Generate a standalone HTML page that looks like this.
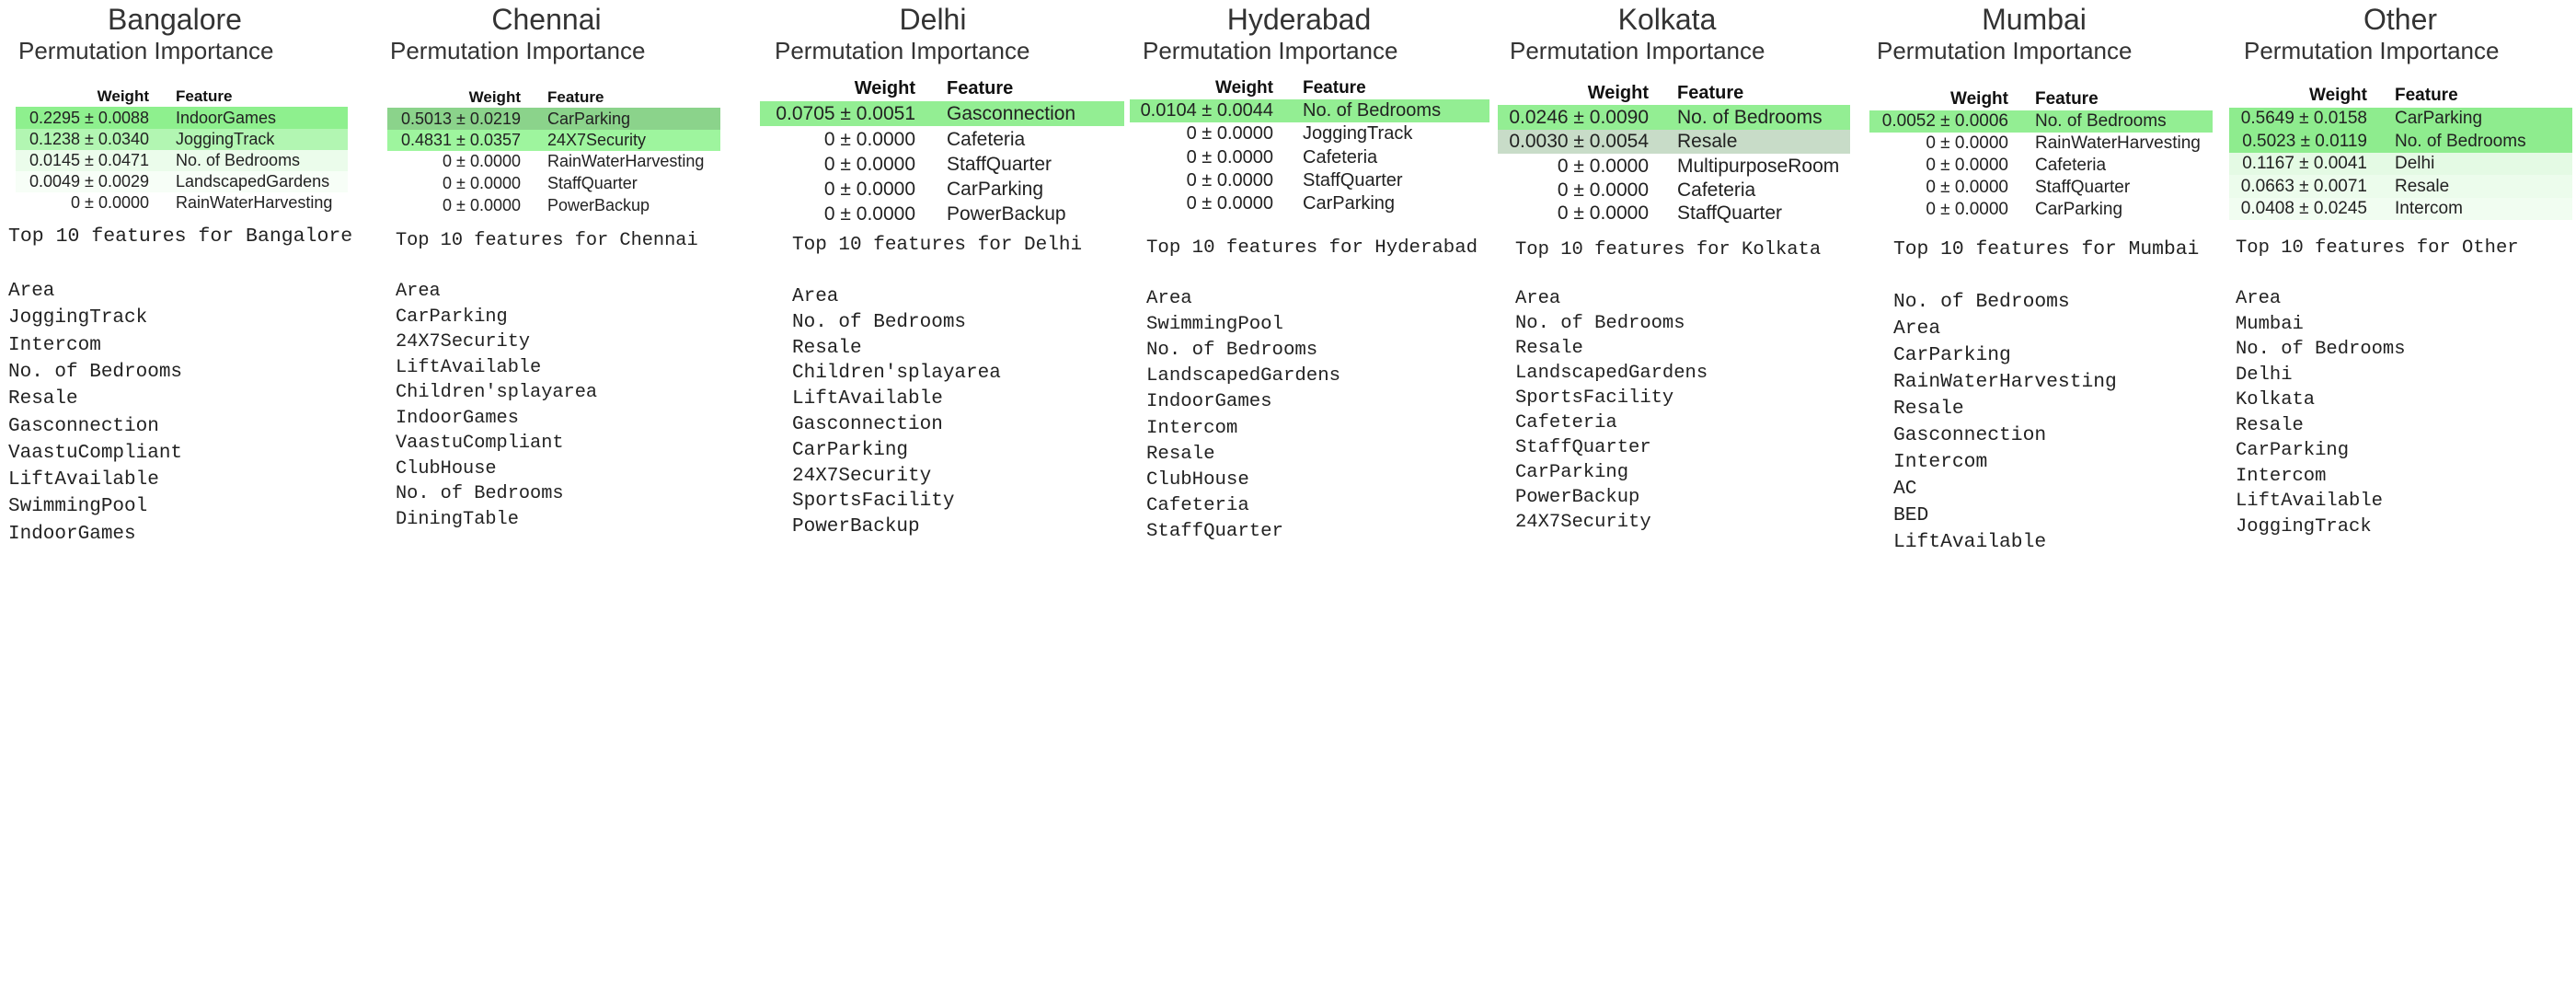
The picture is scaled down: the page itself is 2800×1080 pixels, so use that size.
<!DOCTYPE html>
<html><head><meta charset="utf-8">
<style>
body{margin:0;width:2800px;height:1080px;background:#fff;position:relative;overflow:hidden;font-family:"Liberation Sans",sans-serif;color:#222}
.t{position:absolute;width:400px;text-align:center;font-size:32px;line-height:40px;color:#333}
.s{position:absolute;font-size:26px;line-height:30px;white-space:nowrap;color:#333}
.h,.r{position:absolute;white-space:nowrap}
.h span,.r span{position:absolute;top:0}
.h{font-weight:bold;color:#111}
.w{left:0;text-align:right}
.m{position:absolute;font-family:"Liberation Mono",monospace;font-size:21px;white-space:nowrap;color:#222}
.l{position:absolute;font-family:"Liberation Mono",monospace;font-size:21px;white-space:nowrap;color:#222}
.l div{position:absolute;left:0}
</style></head><body>

<!-- Bangalore -->
<div class="t" style="left:-10px;top:1px">Bangalore</div>
<div class="s" style="left:20px;top:40px">Permutation Importance</div>
<div class="h" style="left:17px;top:94px;width:361px;height:22px;line-height:22px;font-size:17px"><span class="w" style="width:145px">Weight</span><span style="left:174px">Feature</span></div>
<div class="r" style="left:17px;top:116px;width:361px;height:24px;line-height:24px;font-size:18px;background:#8ef08e"><span class="w" style="width:145px">0.2295 ± 0.0088</span><span style="left:174px">IndoorGames</span></div>
<div class="r" style="left:17px;top:140px;width:361px;height:23px;line-height:23px;font-size:18px;background:#b2f6b2"><span class="w" style="width:145px">0.1238 ± 0.0340</span><span style="left:174px">JoggingTrack</span></div>
<div class="r" style="left:17px;top:163px;width:361px;height:23px;line-height:23px;font-size:18px;background:#ebfceb"><span class="w" style="width:145px">0.0145 ± 0.0471</span><span style="left:174px">No. of Bedrooms</span></div>
<div class="r" style="left:17px;top:186px;width:361px;height:23px;line-height:23px;font-size:18px;background:#f7fef7"><span class="w" style="width:145px">0.0049 ± 0.0029</span><span style="left:174px">LandscapedGardens</span></div>
<div class="r" style="left:17px;top:209px;width:361px;height:23px;line-height:23px;font-size:18px"><span class="w" style="width:145px">0 ± 0.0000</span><span style="left:174px">RainWaterHarvesting</span></div>
<div class="m" style="left:9px;top:245px;font-size:21.5px">Top 10 features for Bangalore</div>
<div class="l" style="left:9px;top:305px;font-size:21px">
<div style="top:0">Area</div><div style="top:29.3px">JoggingTrack</div><div style="top:58.6px">Intercom</div><div style="top:87.9px">No. of Bedrooms</div><div style="top:117.2px">Resale</div><div style="top:146.5px">Gasconnection</div><div style="top:175.8px">VaastuCompliant</div><div style="top:205.1px">LiftAvailable</div><div style="top:234.4px">SwimmingPool</div><div style="top:263.7px">IndoorGames</div></div>

<!-- Chennai -->
<div class="t" style="left:394px;top:1px">Chennai</div>
<div class="s" style="left:424px;top:40px">Permutation Importance</div>
<div class="h" style="left:421px;top:95px;width:362px;height:22px;line-height:22px;font-size:17px"><span class="w" style="width:145px">Weight</span><span style="left:174px">Feature</span></div>
<div class="r" style="left:421px;top:117px;width:362px;height:24px;line-height:24px;font-size:18px;background:#8bd38b"><span class="w" style="width:145px">0.5013 ± 0.0219</span><span style="left:174px">CarParking</span></div>
<div class="r" style="left:421px;top:141px;width:362px;height:23px;line-height:23px;font-size:18px;background:#9ef59e"><span class="w" style="width:145px">0.4831 ± 0.0357</span><span style="left:174px">24X7Security</span></div>
<div class="r" style="left:421px;top:164px;width:362px;height:23px;line-height:23px;font-size:18px"><span class="w" style="width:145px">0 ± 0.0000</span><span style="left:174px">RainWaterHarvesting</span></div>
<div class="r" style="left:421px;top:187px;width:362px;height:24px;line-height:24px;font-size:18px"><span class="w" style="width:145px">0 ± 0.0000</span><span style="left:174px">StaffQuarter</span></div>
<div class="r" style="left:421px;top:211px;width:362px;height:24px;line-height:24px;font-size:18px"><span class="w" style="width:145px">0 ± 0.0000</span><span style="left:174px">PowerBackup</span></div>
<div class="m" style="left:430px;top:250px;font-size:20.3px">Top 10 features for Chennai</div>
<div class="l" style="left:430px;top:305px;font-size:20.3px">
<div style="top:0">Area</div><div style="top:27.5px">CarParking</div><div style="top:55px">24X7Security</div><div style="top:82.5px">LiftAvailable</div><div style="top:110px">Children'splayarea</div><div style="top:137.5px">IndoorGames</div><div style="top:165px">VaastuCompliant</div><div style="top:192.5px">ClubHouse</div><div style="top:220px">No. of Bedrooms</div><div style="top:247.5px">DiningTable</div></div>

<!-- Delhi -->
<div class="t" style="left:814px;top:1px">Delhi</div>
<div class="s" style="left:842px;top:40px">Permutation Importance</div>
<div class="h" style="left:826px;top:84px;width:396px;height:24px;line-height:24px;font-size:20px"><span class="w" style="width:169px">Weight</span><span style="left:203px">Feature</span></div>
<div class="r" style="left:826px;top:110px;width:396px;height:27px;line-height:27px;font-size:21px;background:#93ee93"><span class="w" style="width:169px">0.0705 ± 0.0051</span><span style="left:203px">Gasconnection</span></div>
<div class="r" style="left:826px;top:138px;width:396px;height:27px;line-height:27px;font-size:21px"><span class="w" style="width:169px">0 ± 0.0000</span><span style="left:203px">Cafeteria</span></div>
<div class="r" style="left:826px;top:165px;width:396px;height:27px;line-height:27px;font-size:21px"><span class="w" style="width:169px">0 ± 0.0000</span><span style="left:203px">StaffQuarter</span></div>
<div class="r" style="left:826px;top:192px;width:396px;height:27px;line-height:27px;font-size:21px"><span class="w" style="width:169px">0 ± 0.0000</span><span style="left:203px">CarParking</span></div>
<div class="r" style="left:826px;top:219px;width:396px;height:27px;line-height:27px;font-size:21px"><span class="w" style="width:169px">0 ± 0.0000</span><span style="left:203px">PowerBackup</span></div>
<div class="m" style="left:861px;top:255px;font-size:21px">Top 10 features for Delhi</div>
<div class="l" style="left:861px;top:311px;font-size:21px">
<div style="top:0">Area</div><div style="top:27.8px">No. of Bedrooms</div><div style="top:55.6px">Resale</div><div style="top:83.4px">Children'splayarea</div><div style="top:111.2px">LiftAvailable</div><div style="top:139px">Gasconnection</div><div style="top:166.8px">CarParking</div><div style="top:194.6px">24X7Security</div><div style="top:222.4px">SportsFacility</div><div style="top:250.2px">PowerBackup</div></div>

<!-- Hyderabad -->
<div class="t" style="left:1212px;top:1px">Hyderabad</div>
<div class="s" style="left:1242px;top:40px">Permutation Importance</div>
<div class="h" style="left:1228px;top:84px;width:391px;height:23px;line-height:23px;font-size:19px"><span class="w" style="width:156px">Weight</span><span style="left:188px">Feature</span></div>
<div class="r" style="left:1228px;top:108px;width:391px;height:25px;line-height:25px;font-size:20px;background:#93ee93"><span class="w" style="width:156px">0.0104 ± 0.0044</span><span style="left:188px">No. of Bedrooms</span></div>
<div class="r" style="left:1228px;top:133px;width:391px;height:25px;line-height:25px;font-size:20px"><span class="w" style="width:156px">0 ± 0.0000</span><span style="left:188px">JoggingTrack</span></div>
<div class="r" style="left:1228px;top:159px;width:391px;height:25px;line-height:25px;font-size:20px"><span class="w" style="width:156px">0 ± 0.0000</span><span style="left:188px">Cafeteria</span></div>
<div class="r" style="left:1228px;top:184px;width:391px;height:25px;line-height:25px;font-size:20px"><span class="w" style="width:156px">0 ± 0.0000</span><span style="left:188px">StaffQuarter</span></div>
<div class="r" style="left:1228px;top:209px;width:391px;height:25px;line-height:25px;font-size:20px"><span class="w" style="width:156px">0 ± 0.0000</span><span style="left:188px">CarParking</span></div>
<div class="m" style="left:1246px;top:258px;font-size:20.7px">Top 10 features for Hyderabad</div>
<div class="l" style="left:1246px;top:313px;font-size:20.7px">
<div style="top:0">Area</div><div style="top:28.1px">SwimmingPool</div><div style="top:56.2px">No. of Bedrooms</div><div style="top:84.3px">LandscapedGardens</div><div style="top:112.4px">IndoorGames</div><div style="top:140.5px">Intercom</div><div style="top:168.6px">Resale</div><div style="top:196.7px">ClubHouse</div><div style="top:224.8px">Cafeteria</div><div style="top:252.9px">StaffQuarter</div></div>

<!-- Kolkata -->
<div class="t" style="left:1612px;top:1px">Kolkata</div>
<div class="s" style="left:1641px;top:40px">Permutation Importance</div>
<div class="h" style="left:1628px;top:89px;width:383px;height:24px;line-height:24px;font-size:20px"><span class="w" style="width:164px">Weight</span><span style="left:195px">Feature</span></div>
<div class="r" style="left:1628px;top:114px;width:383px;height:27px;line-height:27px;font-size:21px;background:#93ee93"><span class="w" style="width:164px">0.0246 ± 0.0090</span><span style="left:195px">No. of Bedrooms</span></div>
<div class="r" style="left:1628px;top:141px;width:383px;height:26px;line-height:26px;font-size:21px;background:#c8dcc8"><span class="w" style="width:164px">0.0030 ± 0.0054</span><span style="left:195px">Resale</span></div>
<div class="r" style="left:1628px;top:168px;width:383px;height:26px;line-height:26px;font-size:21px"><span class="w" style="width:164px">0 ± 0.0000</span><span style="left:195px">MultipurposeRoom</span></div>
<div class="r" style="left:1628px;top:194px;width:383px;height:26px;line-height:26px;font-size:21px"><span class="w" style="width:164px">0 ± 0.0000</span><span style="left:195px">Cafeteria</span></div>
<div class="r" style="left:1628px;top:219px;width:383px;height:26px;line-height:26px;font-size:21px"><span class="w" style="width:164px">0 ± 0.0000</span><span style="left:195px">StaffQuarter</span></div>
<div class="m" style="left:1647px;top:260px;font-size:20.5px">Top 10 features for Kolkata</div>
<div class="l" style="left:1647px;top:313px;font-size:20.5px">
<div style="top:0">Area</div><div style="top:27px">No. of Bedrooms</div><div style="top:54px">Resale</div><div style="top:81px">LandscapedGardens</div><div style="top:108px">SportsFacility</div><div style="top:135px">Cafeteria</div><div style="top:162px">StaffQuarter</div><div style="top:189px">CarParking</div><div style="top:216px">PowerBackup</div><div style="top:243px">24X7Security</div></div>

<!-- Mumbai -->
<div class="t" style="left:2011px;top:1px">Mumbai</div>
<div class="s" style="left:2040px;top:40px">Permutation Importance</div>
<div class="h" style="left:2032px;top:97px;width:373px;height:22px;line-height:22px;font-size:19px"><span class="w" style="width:151px">Weight</span><span style="left:180px">Feature</span></div>
<div class="r" style="left:2032px;top:120px;width:373px;height:24px;line-height:24px;font-size:19px;background:#93ee93"><span class="w" style="width:151px">0.0052 ± 0.0006</span><span style="left:180px">No. of Bedrooms</span></div>
<div class="r" style="left:2032px;top:144px;width:373px;height:24px;line-height:24px;font-size:19px"><span class="w" style="width:151px">0 ± 0.0000</span><span style="left:180px">RainWaterHarvesting</span></div>
<div class="r" style="left:2032px;top:168px;width:373px;height:24px;line-height:24px;font-size:19px"><span class="w" style="width:151px">0 ± 0.0000</span><span style="left:180px">Cafeteria</span></div>
<div class="r" style="left:2032px;top:192px;width:373px;height:24px;line-height:24px;font-size:19px"><span class="w" style="width:151px">0 ± 0.0000</span><span style="left:180px">StaffQuarter</span></div>
<div class="r" style="left:2032px;top:216px;width:373px;height:24px;line-height:24px;font-size:19px"><span class="w" style="width:151px">0 ± 0.0000</span><span style="left:180px">CarParking</span></div>
<div class="m" style="left:2058px;top:259px;font-size:21.3px">Top 10 features for Mumbai</div>
<div class="l" style="left:2058px;top:316px;font-size:21.3px">
<div style="top:0">No. of Bedrooms</div><div style="top:29px">Area</div><div style="top:58px">CarParking</div><div style="top:87px">RainWaterHarvesting</div><div style="top:116px">Resale</div><div style="top:145px">Gasconnection</div><div style="top:174px">Intercom</div><div style="top:203px">AC</div><div style="top:232px">BED</div><div style="top:261px">LiftAvailable</div></div>

<!-- Other -->
<div class="t" style="left:2409px;top:1px">Other</div>
<div class="s" style="left:2439px;top:40px">Permutation Importance</div>
<div class="h" style="left:2423px;top:93px;width:373px;height:22px;line-height:22px;font-size:19px"><span class="w" style="width:150px">Weight</span><span style="left:180px">Feature</span></div>
<div class="r" style="left:2423px;top:117px;width:373px;height:24px;line-height:24px;font-size:19px;background:#8eec8e"><span class="w" style="width:150px">0.5649 ± 0.0158</span><span style="left:180px">CarParking</span></div>
<div class="r" style="left:2423px;top:141px;width:373px;height:25px;line-height:25px;font-size:19px;background:#8eec8e"><span class="w" style="width:150px">0.5023 ± 0.0119</span><span style="left:180px">No. of Bedrooms</span></div>
<div class="r" style="left:2423px;top:166px;width:373px;height:24px;line-height:24px;font-size:19px;background:#e4fae4"><span class="w" style="width:150px">0.1167 ± 0.0041</span><span style="left:180px">Delhi</span></div>
<div class="r" style="left:2423px;top:190px;width:373px;height:25px;line-height:25px;font-size:19px;background:#ecfcec"><span class="w" style="width:150px">0.0663 ± 0.0071</span><span style="left:180px">Resale</span></div>
<div class="r" style="left:2423px;top:215px;width:373px;height:24px;line-height:24px;font-size:19px;background:#f1fdf1"><span class="w" style="width:150px">0.0408 ± 0.0245</span><span style="left:180px">Intercom</span></div>
<div class="m" style="left:2430px;top:258px;font-size:20.5px">Top 10 features for Other</div>
<div class="l" style="left:2430px;top:313px;font-size:20.5px">
<div style="top:0">Area</div><div style="top:27.5px">Mumbai</div><div style="top:55px">No. of Bedrooms</div><div style="top:82.5px">Delhi</div><div style="top:110px">Kolkata</div><div style="top:137.5px">Resale</div><div style="top:165px">CarParking</div><div style="top:192.5px">Intercom</div><div style="top:220px">LiftAvailable</div><div style="top:247.5px">JoggingTrack</div></div>

</body></html>
